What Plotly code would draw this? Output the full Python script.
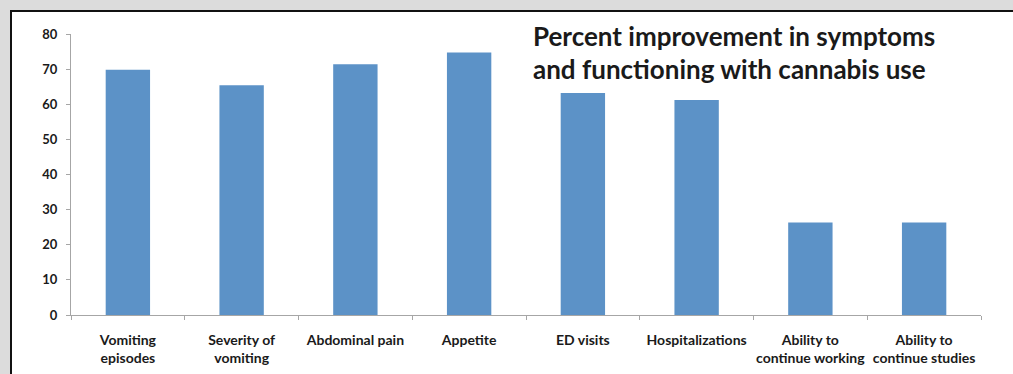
import plotly.graph_objects as go

# Outcome categories (two-line axis labels) and percent improvement
categories = [
    "Vomiting<br>episodes",
    "Severity of<br>vomiting",
    "Abdominal pain",
    "Appetite",
    "ED visits",
    "Hospitalizations",
    "Ability to<br>continue working",
    "Ability to<br>continue studies",
]
improvement_pct = [69.8, 65.4, 71.4, 74.7, 63.2, 61.2, 26.3, 26.3]
y_ticks = [0, 10, 20, 30, 40, 50, 60, 70, 80]

title_lines = [
    "Percent improvement in symptoms",
    "and functioning with cannabis use",
]

W, H = 1013, 374
M_L, M_R, M_T, M_B = 71, 32, 34, 59
plot_w = W - M_L - M_R
plot_h = H - M_T - M_B


def px_x(px):
    return (px - M_L) / plot_w


def px_y(py):
    return (H - M_B - py) / plot_h


AXIS_GRAY = "#a6a6a6"
BAR_BLUE = "#5c92c7"
BG_GRAY = "#dcdcdc"
TEXT = "#1a1a1a"
FONT = "Lato"

fig = go.Figure(
    go.Bar(
        x=categories,
        y=improvement_pct,
        marker=dict(color=BAR_BLUE, line=dict(width=0)),
        hoverinfo="skip",
    )
)

# grey margin strips above and left of the slide panel, with a dark frame
fig.add_shape(
    type="rect", xref="paper", yref="paper",
    x0=px_x(0), x1=px_x(W), y0=px_y(0), y1=px_y(10),
    fillcolor=BG_GRAY, line=dict(width=0), layer="below",
)
fig.add_shape(
    type="rect", xref="paper", yref="paper",
    x0=px_x(0), x1=px_x(10), y0=px_y(0), y1=px_y(H),
    fillcolor=BG_GRAY, line=dict(width=0), layer="below",
)
fig.add_shape(
    type="line", xref="paper", yref="paper",
    x0=px_x(10), x1=px_x(W), y0=px_y(11), y1=px_y(11),
    line=dict(color="#111111", width=2), layer="below",
)
fig.add_shape(
    type="line", xref="paper", yref="paper",
    x0=px_x(11), x1=px_x(11), y0=px_y(10), y1=px_y(H),
    line=dict(color="#111111", width=2), layer="below",
)

for i, line in enumerate(title_lines):
    fig.add_annotation(
        text=line, xref="paper", yref="paper",
        x=px_x(531), y=px_y(18 + 33 * i),
        xanchor="left", yanchor="top", showarrow=False,
        font=dict(family=FONT, size=26, color=TEXT, weight="bold"),
    )

fig.update_layout(
    width=W, height=H,
    margin=dict(l=M_L, r=M_R, t=M_T, b=M_B, pad=0, autoexpand=False),
    paper_bgcolor="white",
    plot_bgcolor="rgba(0,0,0,0)",
    bargap=0.61,
    showlegend=False,
    font=dict(family=FONT, color=TEXT),
)
fig.update_yaxes(
    range=[0, 80], tickvals=y_ticks, showgrid=False, zeroline=False,
    showline=True, linecolor=AXIS_GRAY, linewidth=1,
    ticks="outside", ticklen=4, tickcolor=AXIS_GRAY, tickwidth=1,
    tickfont=dict(family=FONT, size=13, color=TEXT, weight="bold"),
    ticklabelstandoff=6, automargin=False,
)
fig.update_xaxes(
    showgrid=False, showline=True, linecolor=AXIS_GRAY, linewidth=1,
    ticks="outside", tickson="boundaries", ticklen=4,
    tickcolor=AXIS_GRAY, tickwidth=1, tickangle=0,
    tickfont=dict(family=FONT, size=14, color=TEXT, weight="bold"),
    ticklabelstandoff=12, automargin=False,
)

fig.write_html("out.html", config={"staticPlot": True})
